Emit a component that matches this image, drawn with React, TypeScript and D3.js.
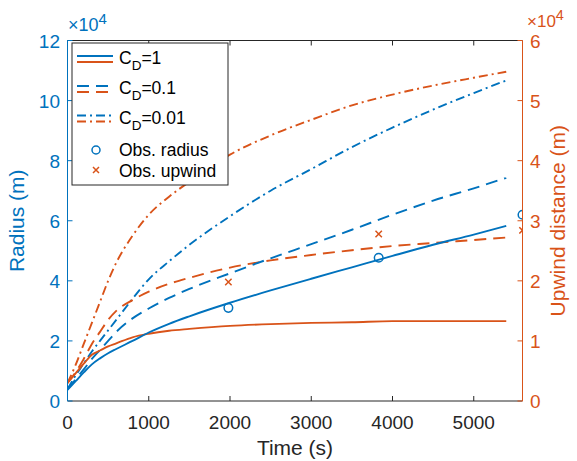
import * as d3 from "d3";

// time grid (s) shared by all model curves
const timeS = [0, 100, 200, 300, 400, 500, 600, 800, 1000, 1250, 1500, 2000, 2500, 3000, 3500, 4000, 4500, 5000, 5400];

// radius (m), left axis
const radiusCd1 = [3700, 6600, 9500, 12200, 14200, 15900, 17300, 20000, 22800, 25700, 28200, 32700, 36800, 40700, 44500, 48300, 52000, 55400, 58300];
const radiusCd01 = [4000, 7200, 10500, 14000, 17000, 20000, 23000, 27500, 30800, 34300, 37300, 42500, 47500, 52200, 57000, 62000, 66700, 70800, 74300];
const radiusCd001 = [4000, 8500, 12500, 16500, 20000, 23500, 27000, 34000, 40500, 46500, 52000, 61500, 70000, 77200, 84500, 91000, 97000, 102500, 106700];

// upwind distance (m), right axis
const upwindCd1 = [3000, 4600, 6200, 7700, 8400, 9100, 9600, 10600, 11200, 11700, 12000, 12500, 12800, 13000, 13100, 13300, 13300, 13300, 13300];
const upwindCd01 = [3000, 4800, 7000, 9500, 11500, 13500, 15000, 16800, 18200, 19500, 20500, 22200, 23400, 24300, 25100, 25800, 26300, 26800, 27200];
const upwindCd001 = [3000, 6000, 9500, 13000, 16500, 20000, 23000, 27500, 31000, 34000, 36500, 41000, 44200, 46800, 49200, 51000, 52500, 53800, 54800];

// observations
const obsTime = [1980, 3830, 5600];
const obsRadius = [31000, 47700, 62000];
const obsUpwind = [19800, 27800, 28400];

const xTicks = [0, 1000, 2000, 3000, 4000, 5000];
const leftTicks = [0, 2, 4, 6, 8, 10, 12];
const rightTicks = [0, 1, 2, 3, 4, 5, 6];

const blue = "#0072BD";
const orange = "#D95319";
const dark = "#262626";
const font = "'Liberation Sans', Arial, Helvetica, sans-serif";

export default function App() {
  const width = 577;
  const height = 461;
  const left = 67.5;
  const right = 522.5;
  const top = 40.5;
  const bottom = 401;

  const x = d3.scaleLinear().domain([0, 5600]).range([left, right]);
  const yL = d3.scaleLinear().domain([0, 120000]).range([bottom, top]);
  const yR = d3.scaleLinear().domain([0, 60000]).range([bottom, top]);

  const lineL = d3
    .line<number>()
    .x((_, i) => x(timeS[i]))
    .y((d) => yL(d))
    .curve(d3.curveMonotoneX);
  const lineR = d3
    .line<number>()
    .x((_, i) => x(timeS[i]))
    .y((d) => yR(d))
    .curve(d3.curveMonotoneX);

  const dash = "12 7";
  const dashDot = "9 4 2 4";
  const lw = 1.9;

  const series = [
    { d: lineR(upwindCd001), c: orange, da: dashDot },
    { d: lineL(radiusCd001), c: blue, da: dashDot },
    { d: lineR(upwindCd01), c: orange, da: dash },
    { d: lineL(radiusCd01), c: blue, da: dash },
    { d: lineR(upwindCd1), c: orange, da: undefined },
    { d: lineL(radiusCd1), c: blue, da: undefined },
  ];

  const legendRows = [
    { label: "=1", da: undefined, cy: 59 },
    { label: "=0.1", da: dash, cy: 89 },
    { label: "=0.01", da: dashDot, cy: 118.5 },
  ];

  return (
    <svg
      width={width}
      height={height}
      style={{ position: "fixed", left: 0, top: 0, background: "#fff" }}
      fontFamily={font}
    >
      <defs>
        <clipPath id="plot">
          <rect x={left} y={top} width={right - left} height={bottom - top} />
        </clipPath>
      </defs>

      {/* curves */}
      <g clipPath="url(#plot)">
        {series.map((s, i) => (
          <path key={i} d={s.d || ""} fill="none" stroke={s.c} strokeWidth={lw} strokeDasharray={s.da} />
        ))}
        {obsTime.map((t, i) => (
          <circle key={"r" + i} cx={x(t)} cy={yL(obsRadius[i])} r={4.3} fill="none" stroke={blue} strokeWidth={1.5} />
        ))}
        {obsTime.map((t, i) => {
          const cx = x(t);
          const cy = yR(obsUpwind[i]);
          const s = 3.2;
          return (
            <path
              key={"u" + i}
              d={`M${cx - s},${cy - s}L${cx + s},${cy + s}M${cx - s},${cy + s}L${cx + s},${cy - s}`}
              stroke={orange}
              strokeWidth={1.5}
            />
          );
        })}
      </g>

      {/* top and bottom axes */}
      <line x1={left} x2={right} y1={top} y2={top} stroke={dark} strokeWidth={1} />
      <line x1={left} x2={right} y1={bottom} y2={bottom} stroke={dark} strokeWidth={1} />
      {xTicks.map((t) => (
        <g key={t}>
          <line x1={x(t)} x2={x(t)} y1={bottom} y2={bottom - 5} stroke={dark} />
          <line x1={x(t)} x2={x(t)} y1={top} y2={top + 5} stroke={dark} />
          <text x={x(t)} y={429} textAnchor="middle" fontSize={19} fill={dark}>
            {t}
          </text>
        </g>
      ))}
      <text x={(left + right) / 2} y={455} textAnchor="middle" fontSize={21} fill={dark}>
        Time (s)
      </text>

      {/* left axis */}
      <line x1={left} x2={left} y1={top} y2={bottom} stroke={blue} strokeWidth={1} />
      {leftTicks.map((t) => (
        <g key={t}>
          <line x1={left} x2={left + 5} y1={yL(t * 1e4)} y2={yL(t * 1e4)} stroke={blue} />
          <text x={60} y={yL(t * 1e4)} dy="0.38em" textAnchor="end" fontSize={19} fill={blue}>
            {t}
          </text>
        </g>
      ))}
      <text x={68} y={31} fontSize={18} fill={blue}>
        ×10
        <tspan dy={-7} fontSize={15}>
          4
        </tspan>
      </text>
      <text
        transform={`translate(23.5, ${(top + bottom) / 2}) rotate(-90)`}
        textAnchor="middle"
        fontSize={21}
        fill={blue}
      >
        Radius (m)
      </text>

      {/* right axis */}
      <line x1={right} x2={right} y1={top} y2={bottom} stroke={orange} strokeWidth={1} />
      {rightTicks.map((t) => (
        <g key={t}>
          <line x1={right} x2={right - 5} y1={yR(t * 1e4)} y2={yR(t * 1e4)} stroke={orange} />
          <text x={530} y={yR(t * 1e4)} dy="0.38em" textAnchor="start" fontSize={19} fill={orange}>
            {t}
          </text>
        </g>
      ))}
      <text x={527} y={26.5} fontSize={17} fill={orange}>
        ×10
        <tspan dy={-7} fontSize={14.5}>
          4
        </tspan>
      </text>
      <text
        transform={`translate(565, ${(top + bottom) / 2}) rotate(-90)`}
        textAnchor="middle"
        fontSize={21}
        fill={orange}
      >
        Upwind distance (m)
      </text>

      {/* legend */}
      <g>
        <rect x={72} y={43} width={156} height={142} fill="#fff" stroke={dark} strokeWidth={1} />
        {legendRows.map((r) => (
          <g key={r.label}>
            <line x1={77} x2={113} y1={r.cy - 3} y2={r.cy - 3} stroke={blue} strokeWidth={lw} strokeDasharray={r.da} />
            <line x1={77} x2={113} y1={r.cy + 3} y2={r.cy + 3} stroke={orange} strokeWidth={lw} strokeDasharray={r.da} />
            <text x={119} y={r.cy + 5} fontSize={17.5} fill="#000">
              C
              <tspan dy={6} fontSize={13.5}>
                D
              </tspan>
              <tspan dy={-6}>{r.label}</tspan>
            </text>
          </g>
        ))}
        <circle cx={96} cy={150} r={4} fill="none" stroke={blue} strokeWidth={1.5} />
        <text x={119} y={156} fontSize={17.5} fill="#000">
          Obs. radius
        </text>
        <path d="M93,167L99,173M93,173L99,167" stroke={orange} strokeWidth={1.5} />
        <text x={119} y={176.5} fontSize={17.5} fill="#000">
          Obs. upwind
        </text>
      </g>
    </svg>
  );
}
